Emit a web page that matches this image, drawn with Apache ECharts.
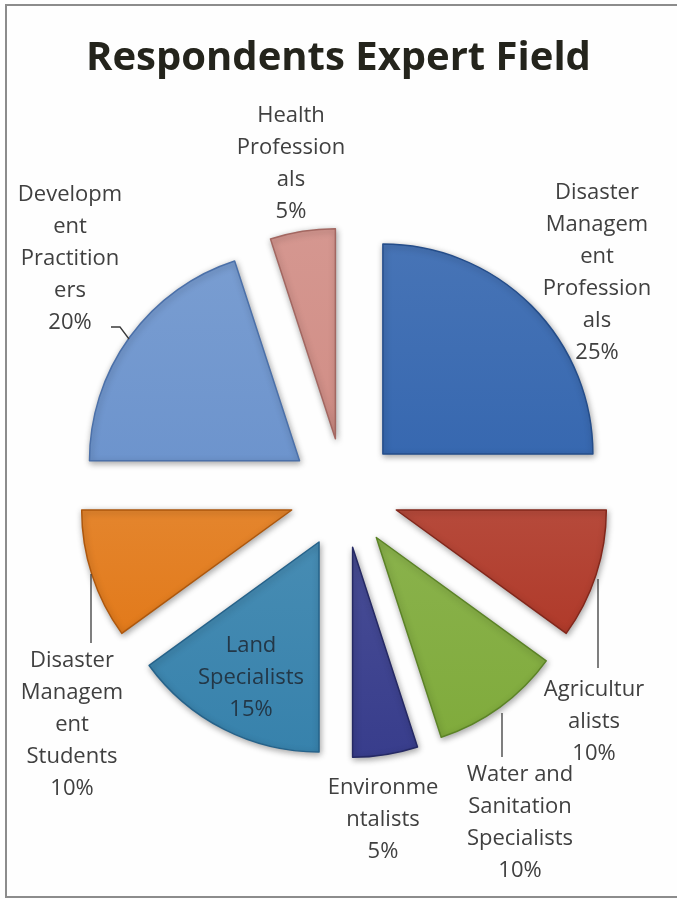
<!DOCTYPE html>
<html>
<head>
<meta charset="utf-8">
<script src="https://cdn.jsdelivr.net/npm/echarts@6/dist/echarts.min.js"></script>
<style>
  html, body { margin: 0; padding: 0; background: #ffffff; }
  #chart { width: 677px; height: 899px; }
</style>
</head>
<body>
<div id="chart"></div>
<script>
// Category labels (wrapped as they are printed on the chart)
const categories = [
  'Disaster\nManagem\nent\nProfession\nals',
  'Agricultur\nalists',
  'Water and\nSanitation\nSpecialists',
  'Environme\nntalists',
  'Land\nSpecialists',
  'Disaster\nManagem\nent\nStudents',
  'Developm\nent\nPractition\ners',
  'Health\nProfession\nals'
];

// Share of respondents, in percent
const shares = [25, 10, 10, 5, 15, 10, 20, 5];

// Slice fill and edge colours
const fillColors = ['#3768b0', '#b03a2a', '#80ab3c', '#383d8c', '#3782ac', '#e27a1b', '#6d94cd', '#d18e86'];
const edgeColors = ['#244d8a', '#82271b', '#5b8326', '#252964', '#25628a', '#ad570d', '#4b70a9', '#a36761'];

// Label text colour per slice (the one drawn over its slice is darker)
const labelColors = ['#404040', '#404040', '#404040', '#404040', '#233747', '#404040', '#404040', '#404040'];

// Where each label block sits (centre of the text) and its leader line, if any
const labelSpots = [[597, 273], [594, 722], [520, 823], [383, 820], [251, 678], [72, 725], [70, 259], [291, 164]];
const leaderLines = [
  null,
  [[598, 579], [598, 668]],
  [[502, 713], [502, 757]],
  null,
  null,
  [[91, 574], [91, 643]],
  [[129, 339], [120, 327], [111, 327]],
  null
];

function lighten(hex, amt) {
  const n = parseInt(hex.slice(1), 16);
  let r = (n >> 16) & 255, g = (n >> 8) & 255, b = n & 255;
  r = Math.round(r + (255 - r) * amt);
  g = Math.round(g + (255 - g) * amt);
  b = Math.round(b + (255 - b) * amt);
  return 'rgb(' + r + ',' + g + ',' + b + ')';
}

const pieData = categories.map((name, i) => ({
  name: name,
  value: shares[i],
  selected: true,
  itemStyle: {
    color: {
      type: 'linear', x: 0, y: 0, x2: 0, y2: 1,
      colorStops: [
        { offset: 0, color: lighten(fillColors[i], 0.08) },
        { offset: 1, color: fillColors[i] }
      ]
    },
    borderColor: edgeColors[i]
  }
}));

// Category + percentage labels and their leader lines
const labelGraphics = [];
categories.forEach((name, i) => {
  labelGraphics.push({
    type: 'text',
    silent: true,
    z: 10,
    style: {
      text: name + '\n' + shares[i] + '%',
      x: labelSpots[i][0],
      y: labelSpots[i][1],
      align: 'center',
      verticalAlign: 'middle',
      fontFamily: 'Open Sans',
      fontSize: 22,
      lineHeight: 32,
      fill: labelColors[i]
    }
  });
  if (leaderLines[i]) {
    labelGraphics.push({
      type: 'polyline',
      silent: true,
      z: 10,
      shape: { points: leaderLines[i] },
      style: { stroke: '#3a3a3a', lineWidth: 1.3, fill: 'none' }
    });
  }
});

const chart = echarts.init(document.getElementById('chart'), null, { renderer: 'canvas' });

chart.setOption({
  animation: false,
  backgroundColor: '#fefefe',
  title: {
    text: 'Respondents Expert Field',
    left: 'center',
    top: 34,
    textStyle: {
      fontFamily: 'Open Sans',
      fontWeight: 'bold',
      fontSize: 40,
      color: '#24241c'
    }
  },
  graphic: [{
    type: 'rect',
    shape: { x: 6, y: 5, width: 690, height: 892 },
    style: { fill: 'none', stroke: '#8c8c8c', lineWidth: 2 },
    silent: true,
    z: -1
  }].concat(labelGraphics),
  series: [{
    type: 'pie',
    center: [344, 493],
    radius: [0, 210],
    startAngle: 90,
    clockwise: true,
    selectedMode: 'multiple',
    selectedOffset: 55,
    avoidLabelOverlap: false,
    emphasis: { disabled: true },
    itemStyle: {
      borderWidth: 1.5,
      shadowBlur: 6,
      shadowOffsetX: 1,
      shadowOffsetY: 2,
      shadowColor: 'rgba(0,0,0,0.35)'
    },
    label: { show: false },
    labelLine: { show: false },
    data: pieData
  }]
});
</script>
</body>
</html>
